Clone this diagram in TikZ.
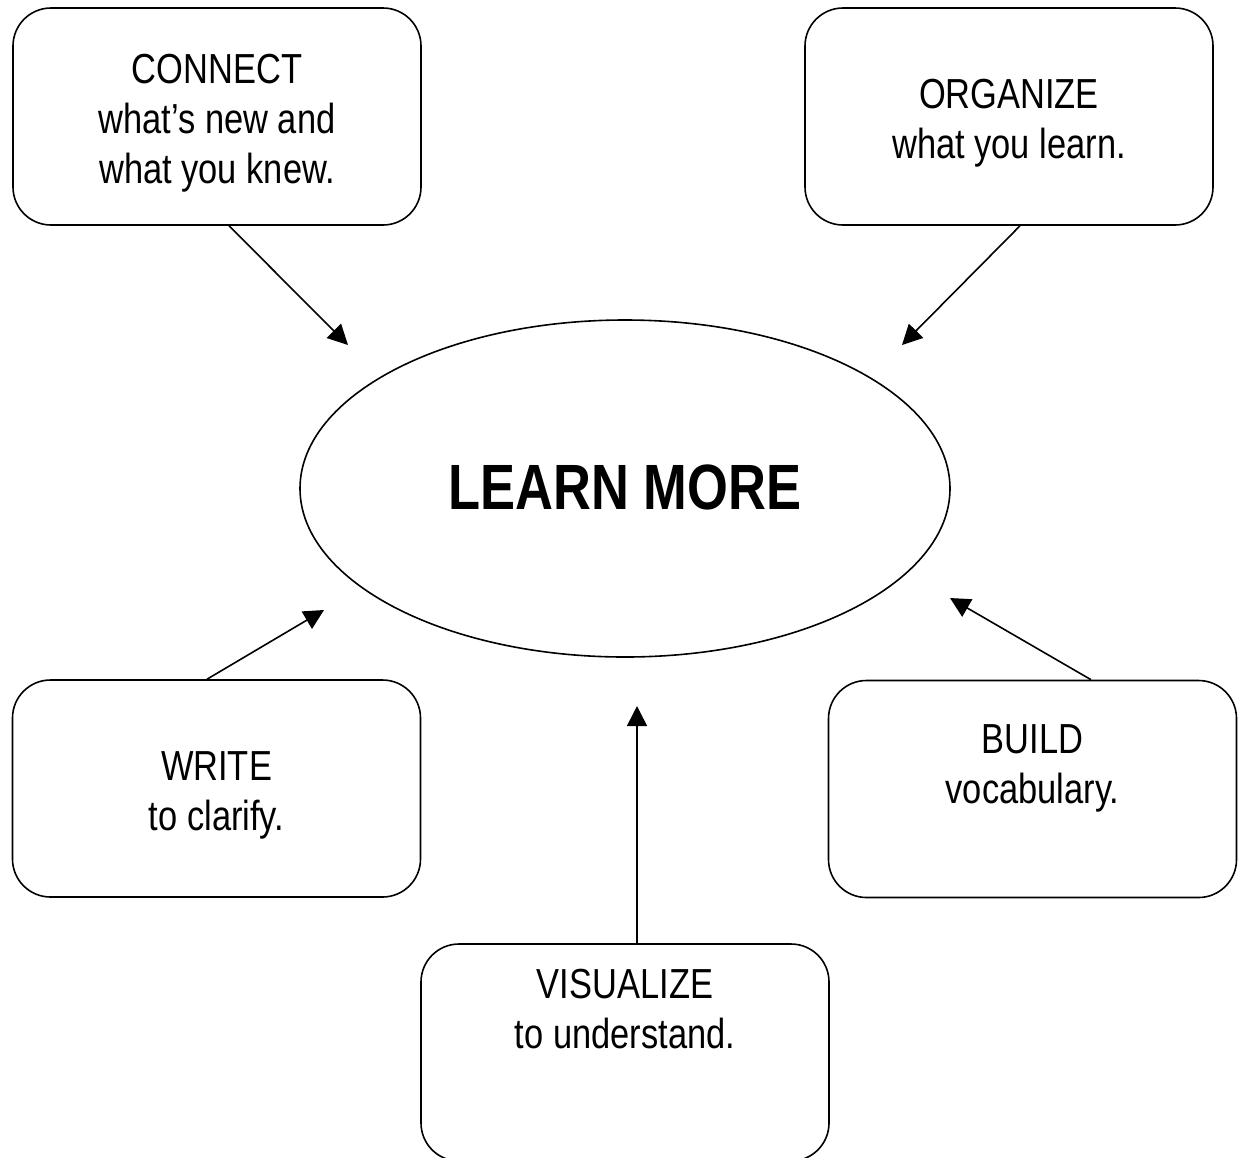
\documentclass[tikz,border=0pt]{standalone}
\usepackage{fontspec}
\setmainfont{Liberation Sans}[FakeStretch=0.82]
\usetikzlibrary{shapes.geometric,arrows.meta,calc}
\newcommand\tstrut{\rule{0pt}{42pt}}
\tikzset{
  box/.style={draw, line width=1.6pt, rounded corners=38pt, minimum width=408pt, minimum height=217pt,
    inner sep=0pt, align=center, font=\fontsize{42}{50}\selectfont},
  hub/.style={draw, line width=1.6pt, ellipse, minimum width=650pt, minimum height=337pt, inner sep=0pt,
    font=\fontsize{64}{70}\selectfont\bfseries},
  link/.style={line width=1.6pt, -{Triangle[length=20pt,width=20pt]}}
}
\begin{document}
\begin{tikzpicture}[x=1pt,y=-1pt]
\useasboundingbox (0,0) rectangle (1238,1157);
\clip (0,0) rectangle (1238,1157);
\fill[white] (0,0) rectangle (1238,1157);
\node[hub] (h) at (625,488.5) {\raisebox{3pt}{LEARN MORE}};
\node[box] (c) at (217,116.5) {\tstrut CONNECT\\what’s new and\\what you knew.};
\node[box] (o) at (1009,116.5) {\tstrut ORGANIZE\\what you learn.};
\node[box] (w) at (216.5,788.5) {\tstrut WRITE\\to clarify.};
\node[box] (b) at (1032.5,789) {BUILD\\vocabulary.\\\mbox{}};
\node[box] (v) at (625,1052.5) {\tstrut VISUALIZE\\to understand.\\\mbox{}\\\mbox{}};
\coordinate (t1) at (348,345);
\coordinate (t2) at (902,345);
\coordinate (t3) at (324,610);
\coordinate (t4) at (950,598);
\coordinate (t5) at (637,706);
\draw[link] ($(c.south)+(12,0)$) -- (t1);
\draw[link] ($(o.south)+(11,0)$) -- (t2);
\draw[link] ($(w.north)+(-9.5,0)$) -- (t3);
\draw[link] ($(b.north)+(58.5,0)$) -- (t4);
\draw[link] ($(v.north)+(12,0)$) -- (t5);
\end{tikzpicture}
\end{document}
